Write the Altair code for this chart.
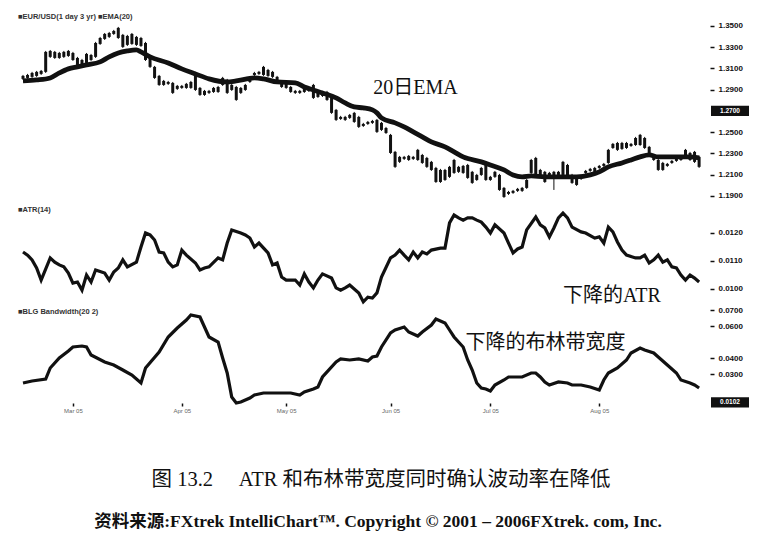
import altair as alt
import pandas as pd

INK = "#111111"

# ---------------- price candles (EUR/USD daily) ----------------
candle_day = list(range(150))
opens = [1.3002,1.3011,1.3021,1.3068,1.3049,1.3068,1.3265,1.3256,1.3199,1.3256,
         1.3218,1.3246,1.3199,1.3180,1.3152,1.3227,1.3209,1.3331,1.3378,1.3434,
         1.3425,1.3482,1.3416,1.3322,1.3331,1.3397,1.3387,1.3340,1.3209,1.3115,
         1.3030,1.2983,1.2955,1.2964,1.2908,1.2936,1.2917,1.2917,1.3058,1.2917,
         1.2851,1.2889,1.2879,1.2879,1.2945,1.2992,1.2898,1.2926,1.2870,1.2898,
         1.2973,1.3039,1.3068,1.3039,1.3086,1.3068,1.3021,1.2973,1.2964,1.2926,
         1.2889,1.2870,1.2879,1.2908,1.2945,1.2832,1.2842,1.2879,1.2823,1.2710,
         1.2625,1.2644,1.2635,1.2682,1.2644,1.2559,1.2578,1.2588,1.2616,1.2522,
         1.2540,1.2475,1.2315,1.2221,1.2268,1.2239,1.2268,1.2239,1.2286,1.2258,
         1.2221,1.2164,1.2032,1.2145,1.2080,1.2117,1.2174,1.2183,1.2192,1.2127,
         1.2051,1.2098,1.2192,1.2080,1.2080,1.2098,1.1976,1.1920,1.1929,1.1948,
         1.1948,1.1976,1.2117,1.2258,1.2145,1.2127,1.2070,1.2127,1.2098,1.2098,
         1.2192,1.2098,1.2070,1.2061,1.2117,1.2136,1.2164,1.2164,1.2183,1.2211,
         1.2352,1.2399,1.2343,1.2399,1.2371,1.2380,1.2380,1.2446,1.2362,1.2286,
         1.2239,1.2145,1.2183,1.2211,1.2230,1.2239,1.2258,1.2305,1.2221,1.2268]
closes = [1.3030,1.3039,1.3058,1.3030,1.3077,1.3256,1.3209,1.3199,1.3246,1.3209,
          1.3265,1.3180,1.3133,1.3115,1.3237,1.3180,1.3340,1.3387,1.3425,1.3397,
          1.3453,1.3387,1.3303,1.3406,1.3425,1.3322,1.3312,1.3180,1.3115,1.3011,
          1.2945,1.2945,1.2973,1.2870,1.2936,1.2917,1.2955,1.2973,1.2898,1.2851,
          1.2889,1.2870,1.2917,1.2926,1.3011,1.2870,1.2945,1.2804,1.2917,1.2945,
          1.3002,1.3058,1.3049,1.3115,1.3030,1.3021,1.2973,1.2926,1.2917,1.2879,
          1.2870,1.2889,1.2917,1.2889,1.2823,1.2870,1.2879,1.2804,1.2682,1.2616,
          1.2644,1.2616,1.2663,1.2597,1.2550,1.2578,1.2597,1.2606,1.2503,1.2588,
          1.2493,1.2305,1.2174,1.2268,1.2249,1.2277,1.2249,1.2334,1.2211,1.2174,
          1.2145,1.2032,1.2145,1.2051,1.2174,1.2239,1.2127,1.2117,1.2070,1.2023,
          1.2098,1.2164,1.2051,1.2051,1.2127,1.1957,1.1891,1.1938,1.1948,1.1967,
          1.1976,1.2051,1.2239,1.2098,1.2098,1.2032,1.2117,1.2089,1.2127,1.2221,
          1.2080,1.2023,1.2004,1.2080,1.2136,1.2155,1.2117,1.2183,1.2202,1.2334,
          1.2390,1.2334,1.2399,1.2352,1.2390,1.2446,1.2475,1.2352,1.2286,1.2239,
          1.2145,1.2211,1.2202,1.2230,1.2249,1.2277,1.2334,1.2239,1.2315,1.2174]
highs = [1.3039,1.3049,1.3068,1.3077,1.3086,1.3265,1.3274,1.3265,1.3256,1.3265,
         1.3274,1.3256,1.3209,1.3190,1.3246,1.3237,1.3350,1.3397,1.3434,1.3444,
         1.3463,1.3491,1.3425,1.3416,1.3434,1.3406,1.3397,1.3350,1.3218,1.3124,
         1.3039,1.2992,1.2983,1.2973,1.2945,1.2945,1.2964,1.2983,1.3068,1.2926,
         1.2898,1.2898,1.2926,1.2936,1.3021,1.3002,1.2955,1.2936,1.2926,1.2955,
         1.3011,1.3068,1.3077,1.3124,1.3096,1.3077,1.3030,1.2983,1.2973,1.2936,
         1.2898,1.2898,1.2926,1.2917,1.2955,1.2879,1.2889,1.2889,1.2832,1.2719,
         1.2654,1.2654,1.2672,1.2691,1.2654,1.2588,1.2606,1.2616,1.2625,1.2597,
         1.2550,1.2484,1.2324,1.2277,1.2277,1.2286,1.2277,1.2343,1.2296,1.2268,
         1.2230,1.2174,1.2155,1.2155,1.2183,1.2249,1.2183,1.2192,1.2202,1.2136,
         1.2108,1.2174,1.2202,1.2089,1.2136,1.2108,1.1985,1.1948,1.1957,1.1976,
         1.1985,1.2061,1.2249,1.2268,1.2155,1.2136,1.2127,1.2136,1.2136,1.2230,
         1.2202,1.2108,1.2080,1.2089,1.2145,1.2164,1.2174,1.2192,1.2211,1.2343,
         1.2399,1.2409,1.2409,1.2409,1.2399,1.2456,1.2484,1.2456,1.2371,1.2296,
         1.2249,1.2221,1.2211,1.2239,1.2258,1.2286,1.2343,1.2315,1.2324,1.2277]
lows = [1.2992,1.3002,1.3011,1.3021,1.3039,1.3058,1.3199,1.3190,1.3190,1.3199,
        1.3209,1.3171,1.3124,1.3105,1.3143,1.3171,1.3199,1.3322,1.3368,1.3387,
        1.3416,1.3378,1.3293,1.3312,1.3322,1.3312,1.3303,1.3171,1.3105,1.3002,
        1.2936,1.2936,1.2945,1.2860,1.2898,1.2908,1.2908,1.2908,1.2889,1.2842,
        1.2842,1.2860,1.2870,1.2870,1.2936,1.2860,1.2889,1.2795,1.2860,1.2889,
        1.2964,1.3030,1.3039,1.3030,1.3021,1.3011,1.2964,1.2917,1.2908,1.2870,
        1.2860,1.2860,1.2870,1.2879,1.2813,1.2823,1.2832,1.2795,1.2673,1.2606,
        1.2616,1.2606,1.2625,1.2588,1.2540,1.2550,1.2569,1.2578,1.2493,1.2512,
        1.2484,1.2296,1.2164,1.2211,1.2239,1.2230,1.2239,1.2230,1.2202,1.2164,
        1.2136,1.2023,1.2023,1.2042,1.2070,1.2108,1.2117,1.2108,1.2061,1.2014,
        1.2042,1.2089,1.2042,1.2042,1.2070,1.1948,1.1882,1.1910,1.1920,1.1938,
        1.1938,1.1967,1.2108,1.2089,1.2089,1.2023,1.2061,1.1957,1.2089,1.2089,
        1.2070,1.2014,1.1995,1.2051,1.2108,1.2127,1.2108,1.2155,1.2174,1.2202,
        1.2343,1.2324,1.2334,1.2343,1.2362,1.2371,1.2371,1.2343,1.2277,1.2230,
        1.2136,1.2136,1.2174,1.2202,1.2221,1.2230,1.2249,1.2230,1.2211,1.2164]

# ---------------- EMA(20) ----------------
ema_day = [0,3,6,8,10,12,14,17,19,21,23,25,26,28,32,35,38,41,45,47,
           51,53,56,60,62,64,66,69,71,73,75,77,78,79,82,84,86,88,90,93,
           95,97,101,103,106,108,110,112,115,119,122,125,127,129,132,134,136,138,140,142,
           145,147,149]
ema_val = [1.2983,1.2992,1.3011,1.3058,1.3096,1.3115,1.3133,1.3162,1.3209,1.3246,
           1.3265,1.3275,1.3256,1.3209,1.3152,1.3096,1.3049,1.3002,1.2973,1.2983,
           1.3011,1.3002,1.2973,1.2964,1.2926,1.2898,1.2870,1.2823,1.2776,1.2738,
           1.2729,1.2710,1.2682,1.2635,1.2588,1.2550,1.2503,1.2456,1.2409,1.2362,
           1.2315,1.2268,1.2221,1.2192,1.2145,1.2098,1.2080,1.2089,1.2080,1.2080,
           1.2080,1.2098,1.2127,1.2174,1.2211,1.2239,1.2268,1.2286,1.2268,1.2268,
           1.2268,1.2268,1.2258]

# ---------------- ATR(14) ----------------
atr_day = [0,1,2,3,4,6,7,8,9,10,11,12,13,14,15,16,18,19,20,21,
           22,23,25,26,27,28,29,30,31,32,33,34,35,36,38,39,40,41,43,44,
           45,46,48,49,50,51,52,54,55,56,57,58,60,61,62,63,64,65,66,68,
           69,70,71,72,74,75,76,77,78,79,81,82,83,84,85,86,87,88,89,90,
           92,93,94,95,96,97,98,99,100,101,102,103,104,106,107,108,109,110,111,113,
           114,115,116,117,118,119,120,121,123,124,126,127,128,129,130,131,132,133,135,136,
           137,138,139,140,141,142,143,144,145,146,147,148,149]
atr_val = [.01132,.01121,.01104,.01075,.01032,.01111,.01096,.01086,.01079,.01057,
           .01021,.01025,.00996,.01050,.01025,.01068,.01057,.01032,.01061,.01075,
           .01104,.01079,.01096,.01150,.01200,.01193,.01175,.01132,.01129,.01096,
           .01079,.01086,.01139,.01121,.01093,.01068,.01075,.01079,.01111,.01104,
           .01164,.01211,.01200,.01193,.01182,.01150,.01164,.01129,.01086,.01093,
           .01043,.01032,.01032,.01014,.01054,.01025,.01004,.01032,.01054,.01039,
           .01004,.00996,.01004,.01014,.00986,.00954,.00971,.00968,.00986,.01043,
           .01111,.01121,.01139,.01121,.01104,.01132,.01111,.01132,.01125,.01139,
           .01146,.01146,.01236,.01264,.01254,.01246,.01254,.01254,.01246,.01239,
           .01221,.01200,.01229,.01200,.01164,.01129,.01143,.01150,.01211,.01257,
           .01229,.01218,.01186,.01218,.01254,.01271,.01254,.01221,.01204,.01200,
           .01182,.01186,.01164,.01221,.01204,.01168,.01139,.01121,.01111,.01111,
           .01121,.01093,.01104,.01121,.01096,.01104,.01079,.01075,.01050,.01032,
           .01050,.01039,.01025]

# ---------------- Bollinger Bandwidth(20, 2) ----------------
bb_day = [0,2,5,6,8,10,11,13,14,15,18,20,22,24,26,27,30,32,34,36,
          37,39,40,41,43,44,45,46,47,48,50,51,53,57,59,61,62,64,65,66,
          69,70,72,74,76,77,78,79,81,82,84,85,87,88,90,91,93,94,95,97,
          98,99,100,101,102,103,104,106,107,109,110,112,113,114,115,116,118,120,121,123,
          125,127,128,129,131,133,134,136,137,139,140,142,144,145,147,148,149]
bb_val = [.02438,.02563,.02688,.03375,.04000,.04438,.04688,.04750,.04688,.04188,
          .03750,.03563,.03250,.02938,.02438,.03375,.04375,.05313,.05875,.06375,
          .06688,.06563,.05938,.05313,.05000,.04000,.03063,.01563,.01188,.01250,
          .01500,.01688,.01813,.01813,.01813,.01688,.01875,.02063,.02188,.02813,
          .03750,.03938,.03875,.03938,.03813,.04063,.04125,.04688,.05563,.05750,
          .05938,.05625,.05375,.05625,.06063,.06438,.06188,.05750,.05313,.04688,
          .03875,.03250,.02438,.02125,.02063,.01938,.02313,.02625,.02813,.02813,
          .02813,.03063,.03063,.02813,.02500,.02313,.02500,.02438,.02313,.02313,
          .02188,.02000,.02625,.03063,.03375,.03875,.04313,.04625,.04500,.04313,
          .04063,.03563,.03063,.02625,.02438,.02313,.02125]

# ---------------- axis ticks / labels ----------------
price_ticks = [1.35, 1.33, 1.31, 1.29, 1.25, 1.23, 1.21, 1.19]
atr_ticks = [0.012, 0.011, 0.010]
bb_ticks = [0.07, 0.06, 0.04, 0.03]
month_days = [11, 35, 58, 81, 103, 127]
month_labels = ["Mar 05", "Apr 05", "May 05", "Jun 05", "Jul 05", "Aug 05"]
price_box_v = [1.27]
price_box_t = ["1.2700"]
bb_box_v = [0.0122]
bb_box_t = ["0.0102"]

NB = "\u00a0"
title_text = "图" + NB + "13.2" + NB * 5 + "ATR" + NB + "和布林带宽度同时确认波动率在降低"
source_text = "资料来源:FXtrek IntelliChart™. Copyright © 2001 – 2006FXtrek. com, Inc."

W = 693
SANS = "Liberation Sans"
SERIF = "Liberation Serif, Noto Sans CJK SC"
BOX = "M-1,-0.27H1V0.27H-1Z"
xs = alt.Scale(domain=[-0.22, 150.30], nice=False, zero=False)


def right_axis(values, fmt):
    return alt.Axis(orient="right", values=values, tickCount=30, format=fmt,
                    domain=False, grid=False, tickSize=4, tickWidth=1.5, tickColor=INK,
                    labelFontSize=8, labelFontWeight="bold", labelColor=INK,
                    labelFont=SANS, labelPadding=4, labelOverlap=False,
                    labelBound=False, title=None)


def panel_label(text, yoff):
    return alt.Chart(pd.DataFrame({"t": [text]})).mark_text(
        align="left", baseline="middle", fontSize=7.5, fontWeight="bold",
        color="#333", font=SANS).encode(x=alt.value(1), y=alt.value(yoff), text="t:N")


def box_layers(field, vals, texts):
    df = pd.DataFrame({field: vals, "t": texts})
    rect = alt.Chart(df).mark_point(shape=BOX, filled=True, color=INK, opacity=1,
                                    size=1444).encode(x=alt.value(W + 20), y=f"{field}:Q")
    txt = alt.Chart(df).mark_text(color="white", fontSize=6.5, fontWeight="bold",
                                  font=SANS).encode(x=alt.value(W + 20), y=f"{field}:Q",
                                                    text="t:N")
    return [rect, txt]


def note(day, val, text, field):
    df = pd.DataFrame({"day": [day], field: [val], "t": [text]})
    return alt.Chart(df).mark_text(align="left", baseline="middle", fontSize=20,
                                   font=SERIF, color=INK).encode(
        x="day:Q", y=f"{field}:Q", text="t:N")


# ---------- price panel ----------
cdf = pd.DataFrame({"day": candle_day, "open": opens, "high": highs,
                    "low": lows, "close": closes})
py = alt.Scale(domain=[1.1834, 1.3622], nice=False, zero=False)
wick = alt.Chart(cdf).mark_rule(color=INK, strokeWidth=1).encode(
    x=alt.X("day:Q", scale=xs, axis=None),
    y=alt.Y("low:Q", scale=py, axis=right_axis(price_ticks, ".4f")),
    y2="high:Q")
body = alt.Chart(cdf).mark_bar(color=INK, size=3).encode(
    x="day:Q", y="open:Q", y2="close:Q")
ema = alt.Chart(pd.DataFrame({"day": ema_day, "low": ema_val})).mark_line(
    color=INK, strokeWidth=4.8, interpolate="monotone").encode(x="day:Q", y="low:Q")
price = alt.layer(
    wick, body, ema,
    *box_layers("low", price_box_v, price_box_t),
    note(77.2, 1.2917, "20日EMA", "low"),
    panel_label("■EUR/USD(1 day 3 yr)  ■EMA(20)", 4),
).properties(width=W, height=190)

# ---------- ATR panel ----------
ay = alt.Scale(domain=[0.0095, 0.013071], nice=False, zero=False)
atr_line = alt.Chart(pd.DataFrame({"day": atr_day, "atr": atr_val})).mark_line(
    color=INK, strokeWidth=3.2).encode(
    x=alt.X("day:Q", scale=xs, axis=None),
    y=alt.Y("atr:Q", scale=ay, axis=right_axis(atr_ticks, ".4f")))
atr = alt.layer(
    atr_line,
    note(119.0, 0.00975, "下降的ATR", "atr"),
    panel_label("■ATR(14)", 7),
).properties(width=W, height=100)

# ---------- Bollinger bandwidth panel ----------
by = alt.Scale(domain=[0.011875, 0.074375], nice=False, zero=False)
xaxis = alt.Axis(values=month_days, tickCount=30, domain=False, grid=False, tickSize=3,
                 tickColor=INK, tickWidth=1.5, labelFontSize=6, labelColor="#666",
                 labelFont=SANS, labelPadding=1, title=None,
                 labelExpr="%s[indexof(%s, datum.value)]" % (month_labels, month_days))
bb_line = alt.Chart(pd.DataFrame({"day": bb_day, "bb": bb_val})).mark_line(
    color=INK, strokeWidth=3.2).encode(
    x=alt.X("day:Q", scale=xs, axis=xaxis),
    y=alt.Y("bb:Q", scale=by, axis=right_axis(bb_ticks, ".4f")))
bb = alt.layer(
    bb_line,
    *box_layers("bb", bb_box_v, bb_box_t),
    note(97.5, 0.04938, "下降的布林带宽度", "bb"),
    panel_label("■BLG Bandwidth(20 2)", 9),
).properties(width=W, height=100)

# ---------- caption panel ----------
cap = alt.layer(
    alt.Chart(pd.DataFrame({"t": [title_text]})).mark_text(
        fontSize=20.5, font=SERIF, color=INK, baseline="middle").encode(
        x=alt.value(364), y=alt.value(77), text="t:N"),
    alt.Chart(pd.DataFrame({"t": [source_text]})).mark_text(
        fontSize=17.5, font=SERIF, fontWeight="bold", color=INK, baseline="middle").encode(
        x=alt.value(361), y=alt.value(119), text="t:N"),
).properties(width=W, height=125)

chart = alt.vconcat(price, atr, bb, cap, spacing=0, bounds="flush").resolve_scale(
    x="shared", y="independent").configure(background="white").configure_view(
    stroke=None).configure_axis(labelOverlap=False)

chart.save("out.html", embed_options={"renderer": "svg", "actions": False})
